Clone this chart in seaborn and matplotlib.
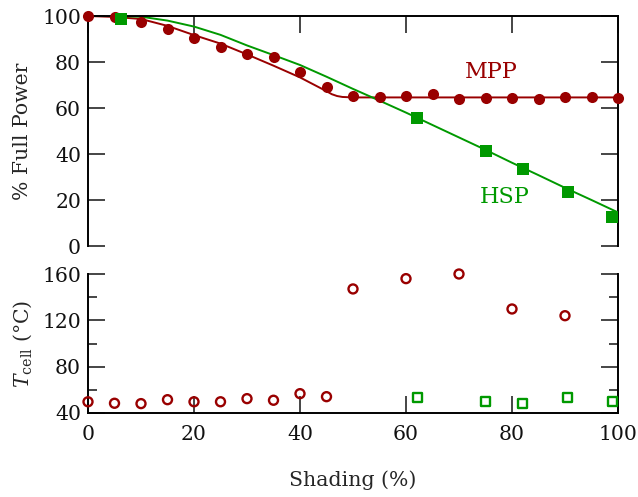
import numpy as np
import pandas as pd
import matplotlib
matplotlib.use("Agg")
import matplotlib.pyplot as plt
import seaborn as sns

# ---------------- data ----------------
# Top panel: % full power
mpp_x = [0, 5, 10, 15, 20, 25, 30, 35, 40, 45, 50, 55, 60, 65, 70, 75, 80, 85, 90, 95, 100]
mpp_y = [100, 99.6, 97.5, 94.2, 90.6, 86.7, 83.5, 82.0, 75.7, 69.0, 65.3, 64.9, 65.3, 66.0,
         64.1, 64.5, 64.2, 63.8, 64.8, 64.8, 64.3]
hsp_x = [6.2, 62.1, 75.0, 82.0, 90.5, 98.9]
hsp_y = [98.8, 55.8, 41.4, 33.3, 23.5, 12.8]

# model curves
mpp_fit_x = [0, 5, 10, 15, 20, 25, 30, 35, 40, 45, 46, 47, 48, 50, 100]
mpp_fit_y = [100, 99.6, 98.7, 95.7, 91.7, 88.0, 83.3, 78.4, 73.3, 67.3, 66.0, 65.2, 64.8, 64.6, 64.6]
hsp_fit_x = [0, 5, 10, 15, 20, 25, 30, 35, 40, 45, 50, 55, 60, 65, 70, 75, 80, 85, 90, 95, 100]
hsp_fit_y = [100, 100, 99.7, 98.0, 95.4, 91.8, 87.2, 83.0, 78.7, 73.6, 68.3, 63.2, 58.0, 52.6,
             47.2, 41.8, 36.2, 30.8, 25.3, 20.0, 14.6]

# Bottom panel: cell temperature
tmpp_x = [0, 5, 10, 15, 20, 25, 30, 35, 40, 45, 50, 60, 70, 80, 90]
tmpp_y = [49.7, 48.4, 48.1, 51.5, 49.7, 49.7, 52.4, 51.0, 56.7, 54.1, 147.1, 156.0, 160.0, 129.8, 124.0]
thsp_x = [62.1, 75.0, 82.0, 90.5, 98.9]
thsp_y = [53.2, 49.8, 48.1, 53.2, 49.8]

x_ticks = [0, 20, 40, 60, 80, 100]
top_yticks = [0, 20, 40, 60, 80, 100]
bot_yticks = [40, 80, 120, 160]
bot_yminor = [60, 100, 140]

RED = "#990000"
GREEN = "#009900"

# ---------------- style ----------------
sns.set_theme(style="ticks")
plt.rcParams["font.family"] = ["DejaVu Serif"]
plt.rcParams["mathtext.fontset"] = "dejavuserif"
plt.rcParams["axes.linewidth"] = 1.4
plt.rcParams["axes.edgecolor"] = "black"
plt.rcParams["text.color"] = "#111111"

FS = 14.7

fig = plt.figure(figsize=(6.38, 4.97), dpi=100)
W, H = 638, 497
L, R = 88 / W, 618 / W
ax1 = fig.add_axes([L, 1 - 246 / H, R - L, (246 - 16) / H])
ax2 = fig.add_axes([L, 1 - 413 / H, R - L, (413 - 274) / H])

# ---- top panel ----
sns.lineplot(x=mpp_fit_x, y=mpp_fit_y, ax=ax1, color=RED, lw=1.4, estimator=None, sort=False)
sns.lineplot(x=hsp_fit_x, y=hsp_fit_y, ax=ax1, color=GREEN, lw=1.4, estimator=None, sort=False)
sns.scatterplot(x=mpp_x, y=mpp_y, ax=ax1, color=RED, marker="o", s=64, linewidth=0,
                clip_on=False, zorder=3)
sns.scatterplot(x=hsp_x, y=hsp_y, ax=ax1, color=GREEN, marker="s", s=64, linewidth=0,
                clip_on=False, zorder=3)
ax1.text(76, 75.5, "MPP", color=RED, fontsize=16, ha="center", va="center")
ax1.text(78.6, 21.4, "HSP", color=GREEN, fontsize=16, ha="center", va="center")

ax1.set_xlim(0, 100)
ax1.set_ylim(0, 100)
ax1.set_xticks(x_ticks)
ax1.set_yticks(top_yticks)
ax1.spines["bottom"].set_visible(False)
ax1.tick_params(axis="x", which="both", bottom=False, top=True, labelbottom=False,
                labeltop=False, direction="in", length=12.5, width=1.2)
ax1.tick_params(axis="y", which="both", left=True, right=True, direction="in",
                length=12.5, width=1.2, labelsize=FS, pad=5)
ax1.set_ylabel("% Full Power", fontsize=FS, va="center")
ax1.yaxis.set_label_coords(-0.124, 0.5)

# ---- bottom panel ----
sns.scatterplot(x=tmpp_x, y=tmpp_y, ax=ax2, marker="o", s=42, facecolors="none",
                edgecolor=RED, linewidth=1.7, clip_on=False, zorder=3)
sns.scatterplot(x=thsp_x, y=thsp_y, ax=ax2, marker="s", s=40, facecolors="none",
                edgecolor=GREEN, linewidth=1.7, clip_on=False, zorder=3)
ax2.set_xlim(0, 100)
ax2.set_ylim(40, 160)
ax2.set_xticks(x_ticks)
ax2.set_yticks(bot_yticks)
ax2.set_yticks(bot_yminor, minor=True)
ax2.spines["top"].set_visible(False)
ax2.tick_params(axis="x", which="both", bottom=True, top=False, direction="in",
                length=12.5, width=1.2, labelsize=FS, pad=9)
ax2.tick_params(axis="y", which="major", left=True, right=True, direction="in",
                length=12.5, width=1.2, labelsize=FS, pad=5)
ax2.tick_params(axis="y", which="minor", left=True, right=True, direction="in",
                length=6.5, width=1.2)
ax2.set_ylabel(r"$T_{\mathrm{cell}}$ (°C)", fontsize=FS, va="center")
ax2.yaxis.set_label_coords(-0.124, 0.5)
ax2.set_xlabel("Shading (%)", fontsize=FS, va="center")
ax2.xaxis.set_label_coords(0.5, -0.482)

for ax in (ax1, ax2):
    ax.set_facecolor("white")
    for t in ax.get_xticklabels() + ax.get_yticklabels():
        t.set_color("#111111")

fig.savefig("out.png", dpi=100, facecolor="white")
